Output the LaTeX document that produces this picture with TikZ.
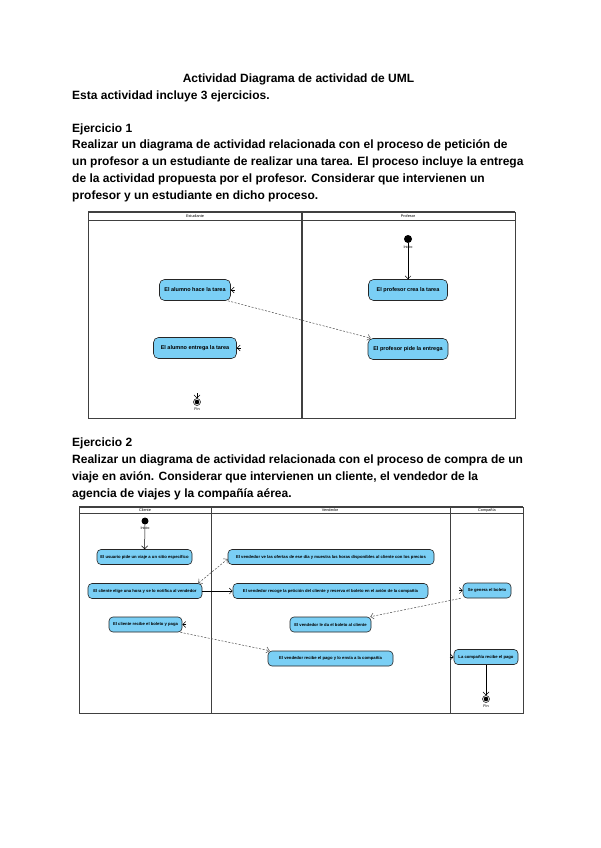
\documentclass[tikz,border=0pt]{standalone}
\usepackage{fontspec}
\setmainfont{Liberation Sans}
\usetikzlibrary{arrows.meta,positioning,calc}
\definecolor{actblue}{RGB}{122,207,245}

\begin{document}
\begin{tikzpicture}[
  x=1pt,y=-1pt,
  txt/.style={anchor=west,inner sep=0pt,font=\fontsize{12}{14}\selectfont\bfseries},
  act/.style={draw=black!85,fill=actblue,line width=0.6pt,inner sep=1pt},
  actA/.style={act,rounded corners=5pt,minimum height=21pt,
               font=\fontsize{5.5}{6}\selectfont\bfseries},
  actB/.style={act,rounded corners=4pt,minimum height=15pt,
               font=\fontsize{4.2}{5}\selectfont\bfseries},
  start/.style={circle,fill=black,minimum size=8pt,inner sep=0pt},
  final/.style={circle,draw,line width=0.5pt,minimum size=7pt,inner sep=0pt,
                path picture={\fill (path picture bounding box.center) circle (2.3pt);}},
  lane/.style={draw=black!75,line width=0.7pt},
  lanehead/.style={font=\fontsize{3.8}{4}\selectfont,inner sep=0pt},
  flow/.style={-{Straight Barb[length=3pt,width=6pt]},line width=0.5pt},
  dep/.style={flow,dash pattern=on 2pt off 1.5pt,draw=black!70},
]

\fill[white] (0,0) rectangle (600,848);
\useasboundingbox (0,0) rectangle (600,848);

%% ===== Heading ===============================================================
\node[txt,anchor=center] (title) at (298.5,79) {Actividad Diagrama de actividad de UML};
\node[txt] (intro) at (72,96) {Esta actividad incluye 3 ejercicios.};

%% ===== Ejercicio 1 text ======================================================
\node[txt] (ej1)  at (72,129) {Ejercicio 1};
\node[txt] (ej1a) at (72,145) {Realizar un diagrama de actividad relacionada con el proceso de petición de};
\node[txt] (ej1b) at (72,162) {un profesor a un estudiante de realizar una tarea. El proceso incluye la entrega};
\node[txt] (ej1c) at (72,179) {de la actividad propuesta por el profesor. Considerar que intervienen un};
\node[txt] (ej1d) at (72,196) {profesor y un estudiante en dicho proceso.};

%% ===== Diagram 1: swimlanes ==================================================
\draw[lane] (88,212) rectangle (515,418);
\draw[lane,line width=1.2pt] (88,212) -- (515,212);
\draw[lane] (88,220) -- (515,220);
\draw[lane,line width=1.4pt] (302,212) -- (302,418);
\node[lanehead] (laneEst)  at (195,216) {Estudiante};
\node[lanehead] (laneProf) at (408,216) {Profesor};

%% ===== Diagram 1: activities =================================================
\node[start] (ini1) at (408,239) {};
\node[lanehead,below=2pt of ini1] (ini1lbl) {Inicio};
\node[actA,minimum width=79pt] (crea)    at (408,290) {El profesor crea la tarea};
\node[actA,minimum width=80pt] (pide)    at (408,349) {El profesor pide la entrega};
\node[actA,minimum width=71pt] (hace)    at (195,290) {El alumno hace la tarea};
\node[actA,minimum width=83pt] (entrega) at (195,348) {El alumno entrega la tarea};
\node[final] (fin1) at (197,402) {};
\node[lanehead,below=2pt of fin1] (fin1lbl) {Fin};

%% ===== Diagram 1: flows ======================================================
\draw[flow] (ini1) -- (crea);
\draw[dep] ($(hace.south east)+(-3,0)$) -- ($(pide.north west)+(3,0)$);
\coordinate[right=4pt of hace] (haceIn);
\draw[flow] (haceIn) -- (hace.east);
\coordinate[right=4pt of entrega] (entregaIn);
\draw[flow] (entregaIn) -- (entrega.east);
\coordinate[above=5pt of fin1] (fin1In);
\draw[flow] (fin1In) -- (fin1);

%% ===== Ejercicio 2 text ======================================================
\node[txt] (ej2)  at (72,443) {Ejercicio 2};
\node[txt] (ej2a) at (72,460) {Realizar un diagrama de actividad relacionada con el proceso de compra de un};
\node[txt] (ej2b) at (72,477) {viaje en avión. Considerar que intervienen un cliente, el vendedor de la};
\node[txt] (ej2c) at (72,494) {agencia de viajes y la compañía aérea.};

%% ===== Diagram 2: swimlanes ==================================================
\draw[lane] (79,507) rectangle (523,713);
\draw[lane,line width=1.2pt] (79,507) -- (523,507);
\draw[lane] (79,513) -- (523,513);
\draw[lane] (211,507) -- (211,713);
\draw[lane] (450,507) -- (450,713);
\node[lanehead] (laneCli) at (145,510) {Cliente};
\node[lanehead] (laneVen) at (330,510) {Vendedor};
\node[lanehead] (laneCom) at (487,510) {Compañía};

%% ===== Diagram 2: activities =================================================
\node[start,minimum size=7pt] (ini2) at (145,521) {};
\node[lanehead,below=1.5pt of ini2] (ini2lbl) {Inicio};
\node[actB,minimum width=95pt]  (viaje)    at (144.5,557) {El usuario pide un viaje a un sitio específico};
\node[actB,minimum width=114pt] (elige)    at (145,591) {El cliente elige una hora y se lo notifica al vendedor};
\node[actB,minimum width=73pt]  (recibe)   at (145.5,624.5) {El cliente recibe el boleto y paga};
\node[actB,minimum width=206pt] (ofertas)  at (331,557) {El vendedor ve las ofertas de ese día y muestra las horas disponibles al cliente con los precios};
\node[actB,minimum width=195pt] (recoge)   at (330.5,591) {El vendedor recoge la petición del cliente y reserva el boleto en el avión de la compañía};
\node[actB,minimum width=81pt]  (daboleto) at (330.5,624.5) {El vendedor le da el boleto al cliente};
\node[actB,minimum width=125pt] (cobro)    at (330.5,658.5) {El vendedor recibe el pago y lo envía a la compañía};
\node[actB,minimum width=48pt]  (genera)   at (487,590.5) {Se genera el boleto};
\node[actB,minimum width=64pt]  (pago)     at (486,657) {La compañía recibe el pago};
\node[final] (fin2) at (486,699) {};
\node[lanehead,below=1.5pt of fin2] (fin2lbl) {Fin};

%% ===== Diagram 2: flows ======================================================
\draw[flow] (ini2) -- (viaje);
\draw[dep,{Straight Barb[length=3pt,width=6pt]}-{Straight Barb[length=3pt,width=6pt]}]
  ($(elige.north east)+(-4,0)$) -- ($(ofertas.west)+(0,2)$);
\draw[flow] (elige) -- (recoge);
\draw[dep] ($(genera.south west)+(-2,0)$) -- ($(daboleto.north east)+(-1,0)$);
\coordinate[left=4pt of genera] (generaIn);
\draw[flow] (generaIn) -- (genera.west);
\draw[dep] ($(recibe.south east)+(-2,0)$) -- ($(cobro.north west)+(2,0)$);
\coordinate[right=4pt of recibe] (recibeIn);
\draw[flow] (recibeIn) -- (recibe.east);
\coordinate[left=4pt of pago] (pagoIn);
\draw[flow] (pagoIn) -- (pago.west);
\draw[flow] (pago) -- (fin2);

\end{tikzpicture}
\end{document}
